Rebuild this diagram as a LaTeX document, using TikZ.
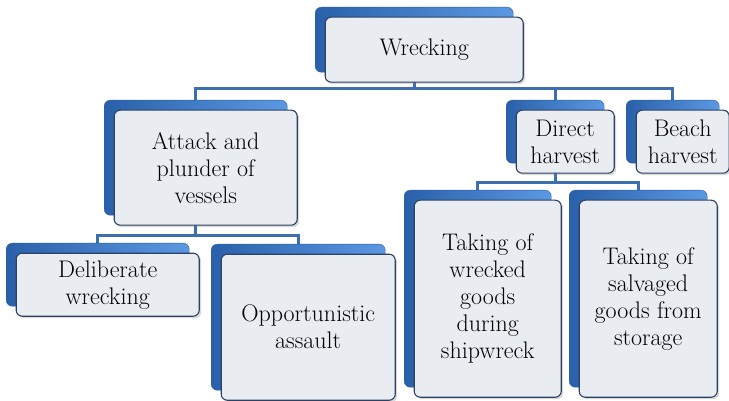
\documentclass[tikz,border=0pt]{standalone}
\usepackage{tikz}
\usetikzlibrary{positioning, backgrounds, shadows}
\definecolor{paneldark}{RGB}{42,96,170}
\definecolor{panellight}{RGB}{92,152,226}
\definecolor{cardgray}{RGB}{233,236,241}
\definecolor{cardedge}{RGB}{44,66,100}
\definecolor{linkblue}{RGB}{60,110,176}

\tikzset{
  panel/.style={draw=paneldark, left color=paneldark, right color=panellight,
                rounded corners=6pt, anchor=north west, inner sep=0pt},
  card/.style={draw=cardedge, line width=1.1pt, fill=cardgray, rounded corners=6pt,
               align=center, inner sep=2pt, font=\fontsize{24}{27}\selectfont,
               drop shadow={shadow xshift=2pt, shadow yshift=-2pt, opacity=0.3}},
  link/.style={linkblue, line width=2.8pt}
}

\begin{document}
\begin{tikzpicture}[x=1pt, y=1pt]
        \useasboundingbox (0,0) rectangle (729,-401);
        % blue back panels
        \node[panel, minimum width=198pt, minimum height=65pt] (wreckB) at (315,-7) {};
        \node[panel, minimum width=183pt, minimum height=115pt] (attackB) at (104,-100) {};
        \node[panel, minimum width=98pt, minimum height=63pt] (directB) at (506,-100) {};
        \node[panel, minimum width=93pt, minimum height=63pt] (beachB) at (626,-100) {};
        \node[panel, minimum width=183pt, minimum height=63pt] (delibB) at (6,-243) {};
        \node[panel, minimum width=174pt, minimum height=146pt] (opportB) at (211,-244) {};
        \node[panel, minimum width=147pt, minimum height=197pt] (wreckedB) at (404,-190) {};
        \node[panel, minimum width=138pt, minimum height=197pt] (salvagedB) at (569,-190) {};

        % front cards
        \node[card, minimum width=198pt, minimum height=65pt]
              (wreck) at ([shift={(10pt,-10pt)}]wreckB.center) {Wrecking};
        \node[card, minimum width=183pt, minimum height=115pt]
              (attack) at ([shift={(10pt,-10pt)}]attackB.center) {Attack and\\plunder of\\vessels};
        \node[card, minimum width=98pt, minimum height=63pt]
              (direct) at ([shift={(10pt,-10pt)}]directB.center) {Direct\\harvest};
        \node[card, minimum width=93pt, minimum height=63pt]
              (beach) at ([shift={(10pt,-10pt)}]beachB.center) {Beach\\harvest};
        \node[card, minimum width=183pt, minimum height=63pt]
              (delib) at ([shift={(10pt,-10pt)}]delibB.center) {Deliberate\\wrecking};
        \node[card, minimum width=174pt, minimum height=146pt]
              (oppor) at ([shift={(10pt,-10pt)}]opportB.center) {Opportunistic\\assault};
        \node[card, minimum width=147pt, minimum height=197pt]
              (wrecked) at ([shift={(10pt,-10pt)}]wreckedB.center) {Taking of\\wrecked\\goods\\during\\shipwreck};
        \node[card, minimum width=138pt, minimum height=197pt]
              (salvaged) at ([shift={(10pt,-10pt)}]salvagedB.center) {Taking of\\salvaged\\goods from\\storage};

        % connectors
        \begin{scope}[on background layer]
          \draw[link] (wreckB.south) -- ++(0,-16) -| (attackB.north);
          \draw[link] (wreckB.south) -- ++(0,-16) -| (directB.north);
          \draw[link] (wreckB.south) -- ++(0,-16) -| (beachB.north);
          \draw[link] (attackB.south) -- ++(0,-20) -| (delibB.north);
          \draw[link] (attackB.south) -- ++(0,-20) -| (opportB.north);
          \draw[link] (directB.south) -- ++(0,-19) -| (wreckedB.north);
          \draw[link] (directB.south) -- ++(0,-19) -| (salvagedB.north);
        \end{scope}
      \end{tikzpicture}
\end{document}
